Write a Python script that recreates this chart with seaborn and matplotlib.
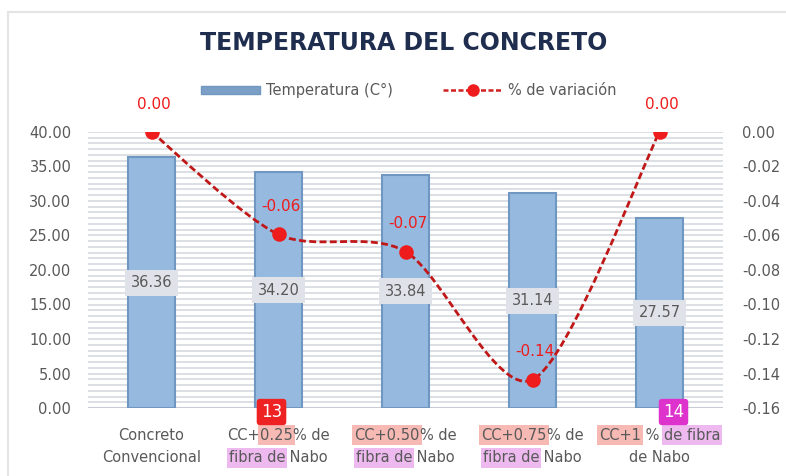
import numpy as np
import pandas as pd
import matplotlib
matplotlib.use("Agg")
import matplotlib.pyplot as plt
import seaborn as sns
from matplotlib.path import Path
from matplotlib.patches import PathPatch, Patch, Rectangle
from matplotlib.lines import Line2D
from matplotlib.ticker import MultipleLocator, FormatStrFormatter

# data
categorias = ["Concreto Convencional", "CC+0.25% de fibra de Nabo",
              "CC+0.50% de fibra de Nabo", "CC+0.75% de fibra de Nabo",
              "CC+1 % de fibra de Nabo"]
temperatura = [36.36, 34.20, 33.84, 31.14, 27.57]
variacion = [0.00, -0.0594, -0.0693, -0.1436, 0.00]
variacion_txt = ["0.00", "-0.06", "-0.07", "-0.14", "0.00"]

# tick labels as (text, highlight) pieces, two lines each
etiquetas = [
    [[("Concreto", None)], [("Convencional", None)]],
    [[("CC+", None), ("0.25", "r"), ("% de", None)], [("fibra de", "p"), (" Nabo", None)]],
    [[("CC+0.50", "r"), ("% de", None)], [("fibra de", "p"), (" Nabo", None)]],
    [[("CC+0.75", "r"), ("% de", None)], [("fibra de", "p"), (" Nabo", None)]],
    [[("CC+1", "r"), (" % ", None), ("de fibra", "p")], [("de Nabo", None)]],
]
marcas = {1: ("13", "#EE2222"), 4: ("14", "#DD33CC")}

GRIS = "#595959"
ROJO = "#EE1C1C"
resaltes = {"r": "#F6B9B3", "p": "#EDB9EF"}

df = pd.DataFrame({"cat": categorias, "temp": temperatura})

sns.set_style("white")
plt.rcParams["font.family"] = ["DejaVu Sans"]

fig = plt.figure(figsize=(7.86, 4.76), dpi=100)
ax = fig.add_axes([88 / 786, 68 / 476, 635 / 786, 276 / 476])

sns.barplot(data=df, x="cat", y="temp", ax=ax, color="#96BADF",
            edgecolor="#6F97C2", linewidth=1.5, width=0.37, saturation=1, zorder=2)

ax.set_ylim(0, 40)
ax.yaxis.set_major_locator(MultipleLocator(5))
ax.yaxis.set_minor_locator(MultipleLocator(5 / 6))
ax.yaxis.set_major_formatter(FormatStrFormatter("%.2f"))
ax.grid(axis="y", which="both", color="#D6DADF", linewidth=1.2, zorder=0)
ax.set_axisbelow(True)
ax.set_xlabel("")
ax.set_ylabel("")
ax.set_xticklabels([])
ax.tick_params(axis="y", which="both", length=0, labelsize=10.5, labelcolor=GRIS, pad=12)
ax.tick_params(axis="x", length=0)
for s in ax.spines.values():
    s.set_visible(False)
ax.axhline(0, color="#C8CCD2", linewidth=1.5, zorder=1)

# value labels in the middle of the bars
for i, v in enumerate(temperatura):
    ax.text(i, v / 2, f"{v:.2f}", ha="center", va="center", fontsize=10.5, color=GRIS,
            bbox=dict(facecolor="#DFE3E9", edgecolor="none", pad=4), zorder=4)

# secondary axis: % de variación
ax2 = ax.twinx()
ax2.set_ylim(-0.16, 0.0)
ax2.yaxis.set_major_locator(MultipleLocator(0.02))
ax2.yaxis.set_major_formatter(FormatStrFormatter("%.2f"))
ax2.tick_params(axis="y", length=0, labelsize=10.5, labelcolor=GRIS, pad=14)
for s in ax2.spines.values():
    s.set_visible(False)

xs = np.arange(len(variacion))
pts = np.column_stack([xs, variacion])
# smooth curve (Catmull-Rom as cubic Bezier) through the points
verts = [pts[0]]
codes = [Path.MOVETO]
for k in range(len(pts) - 1):
    p0 = pts[k - 1] if k > 0 else pts[k]
    p1, p2 = pts[k], pts[k + 1]
    p3 = pts[k + 2] if k + 2 < len(pts) else pts[k + 1]
    verts += [p1 + (p2 - p0) / 7, p2 - (p3 - p1) / 7, p2]
    codes += [Path.CURVE4] * 3
ax2.add_patch(PathPatch(Path(verts, codes), facecolor="none", edgecolor="#C01818",
                        linewidth=2.0, linestyle=(0, (2.5, 1.2)), zorder=5))
sns.scatterplot(x=xs, y=variacion, ax=ax2, color=ROJO, s=110, edgecolor=ROJO,
                linewidth=0, zorder=6, legend=False)
for i, (v, t) in enumerate(zip(variacion, variacion_txt)):
    ax2.annotate(t, (i, v), xytext=(2, 20), textcoords="offset points", ha="center",
                 va="center", fontsize=11, color=ROJO, zorder=7)
ax.set_xlim(-0.5, len(categorias) - 0.5)

# title and legend
fig.text(0.513, 0.909, "TEMPERATURA DEL CONCRETO", ha="center", va="center",
         fontsize=17, fontweight="bold", color="#1F2D4F")
handles = [Patch(facecolor="#7C9FC5", edgecolor="#6F97C2"),
           Line2D([], [], color="#D02020", linestyle=(0, (2, 1)), linewidth=1.8,
                  marker="o", markersize=8, markerfacecolor=ROJO, markeredgecolor=ROJO)]
fig.legend(handles, ["Temperatura (C°)", "% de variación"], loc="center",
           bbox_to_anchor=(0.52, 0.81), ncol=2, frameon=False, fontsize=10.5,
           labelcolor=GRIS, handlelength=4, handleheight=0.5, columnspacing=3.5,
           handletextpad=0.4)

# chart border
fig.patches.append(Rectangle((8 / 786, -0.1), 1.2, 1.1 - 12 / 476, transform=fig.transFigure,
                             facecolor="none", edgecolor="#E4E4E4", linewidth=1.5))

# x tick labels drawn piece by piece so parts can be highlighted
fig.canvas.draw()
r = fig.canvas.get_renderer()
W, H = fig.bbox.width, fig.bbox.height
FS = 10.5


def ancho(s):
    t = fig.text(0, 0, s, fontsize=FS)
    w = t.get_window_extent(r).width
    t.remove()
    return w


for i, lineas in enumerate(etiquetas):
    cx = ax.transData.transform((i, 0))[0]
    for j, piezas in enumerate(lineas):
        ypix = 41 - j * 23
        total = sum(ancho(s) for s, _ in piezas)
        x0 = cx - total / 2
        for s, h in piezas:
            kw = {}
            if h:
                kw["bbox"] = dict(facecolor=resaltes[h], edgecolor="none", pad=1.5)
            fig.text(x0 / W, ypix / H, s, fontsize=FS, color=GRIS, ha="left",
                     va="center", **kw)
            x0 += ancho(s)
    if i in marcas:
        txt, col = marcas[i]
        bx = cx - 7 if i == 1 else cx + 14
        fig.text(bx / W, 64 / H, txt, fontsize=12, color="white", ha="center", va="center",
                 bbox=dict(boxstyle="round,pad=0.25,rounding_size=0.2", facecolor=col,
                           edgecolor="none"))

fig.savefig("out.png", dpi=100)
